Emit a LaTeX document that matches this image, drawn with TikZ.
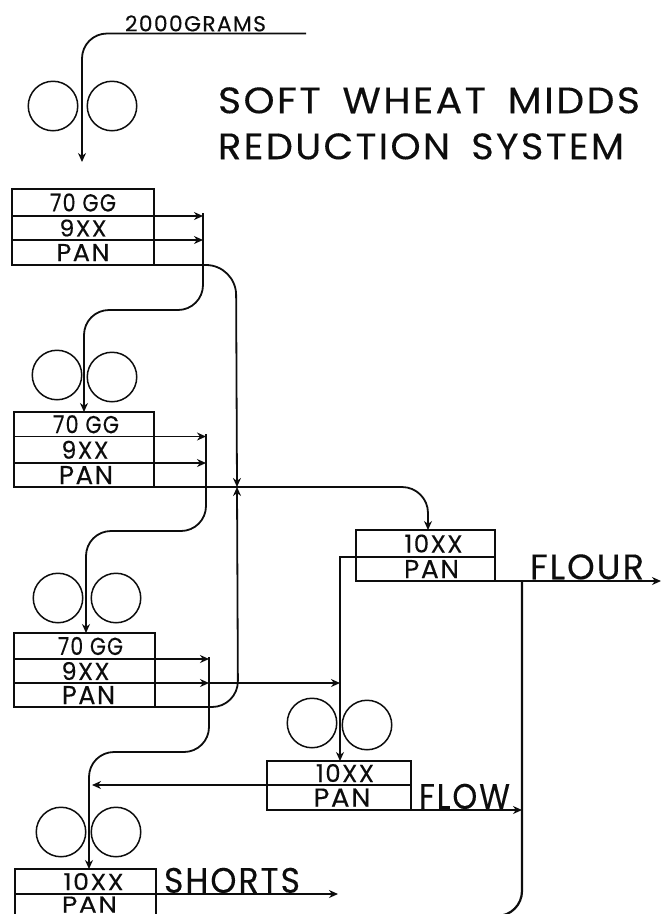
\documentclass[tikz,border=0pt]{standalone}
\usepackage{fontspec}
\usepackage{graphicx}
\setmainfont{Poppins}
\newfontfamily\ltr[LetterSpace=6,FakeBold=0.25]{Poppins}
\usetikzlibrary{arrows.meta}
\newcommand{\fitt}[3]{\resizebox{#1pt}{#2pt}{\ltr #3}}
% name, x1, x2, y1, y2, text width, text height, text shift, text
\newcommand{\sieverow}[9]{%
  \pgfmathsetmacro{\cxv}{(#2+#3)/2}\pgfmathsetmacro{\cyv}{(#4+#5)/2}%
  \pgfmathsetmacro{\wv}{#3-#2}\pgfmathsetmacro{\hv}{#5-#4}%
  \node[rowcell,minimum width=\wv pt,minimum height=\hv pt] (#1) at (\cxv,\cyv) {\hspace*{#8pt}\fitt{#6}{#7}{#9}};}
\tikzset{
  rowcell/.style={draw=ink,line width=1.8pt,inner sep=0pt,outer sep=0pt,text=ink},
  roll/.style={draw=ink,line width=1.5pt,circle,inner sep=0pt,outer sep=0pt,minimum size=49.5pt},
  flow/.style={draw=ink,line width=1.8pt,-{Stealth[length=9pt,width=8pt]}},
  plain/.style={draw=ink,line width=1.8pt},
  label/.style={anchor=south west,inner sep=0pt,outer sep=0pt,text=ink},
}
\definecolor{ink}{gray}{0.05}
\begin{document}
\begin{tikzpicture}[x=1pt,y=-1pt]
\useasboundingbox (0,0) rectangle (663,914);
\clip (0,0) rectangle (663,914);
% labels
\node[label] (tgrams) at (125,31.5) {\fitt{141}{16}{2000GRAMS}};
\node[label] (tone) at (218,113.5) {\fitt{422}{26}{SOFT\hspace{0.55em}WHEAT\hspace{0.55em}MIDDS}};
\node[label] (ttwo) at (218,159.5) {\fitt{406}{26}{REDUCTION\hspace{0.55em}SYSTEM}};
\node[label] (tflour) at (530,579.5) {\fitt{114}{25}{FLOUR}};
\node[label] (tflow) at (419,809) {\fitt{91}{25}{FLOW}};
\node[label] (tshorts) at (164,893) {\fitt{136}{25}{SHORTS}};
% rolls
\node[roll] (r1l) at (53,106) {}; \node[roll] (r1r) at (112,106) {};
\node[roll] (r2l) at (57,375) {}; \node[roll] (r2r) at (112,377) {};
\node[roll] (r3l) at (58,598) {}; \node[roll] (r3r) at (116,598) {};
\node[roll] (r4l) at (312,723) {}; \node[roll] (r4r) at (367,725) {};
\node[roll] (r5l) at (61,832) {}; \node[roll] (r5r) at (116,832) {};
% sieves
\sieverow{a1}{12}{154}{189}{216}{66}{18}{0}{70 GG}
\sieverow{a2}{12}{154}{216}{240}{47}{17}{0}{9XX}
\sieverow{a3}{12}{154}{240}{265}{53}{17}{0}{PAN}
\sieverow{b1}{14}{154}{412}{436.5}{66}{18}{4}{70 GG}
\sieverow{b2}{14}{154}{436.5}{463}{47}{18}{2}{9XX}
\sieverow{b3}{14}{154}{463}{487}{54}{18}{4}{PAN}
\sieverow{c1}{14}{155}{633}{659}{65}{18}{12}{70 GG}
\sieverow{c2}{14}{155}{659}{683}{48}{18}{2}{9XX}
\sieverow{c3}{14}{155}{683}{707}{53}{18}{8}{PAN}
\sieverow{d1}{267}{411}{761}{785}{58}{18}{12}{10XX}
\sieverow{d2}{267}{411}{785}{810}{57}{18}{6}{PAN}
\sieverow{e1}{356}{495}{530}{557}{58}{18}{16}{10XX}
\sieverow{e2}{356}{495}{557}{581}{55}{18}{12}{PAN}
\sieverow{f1}{15}{156}{869}{894}{60}{17}{16}{10XX}
\sieverow{f2}{15}{156}{894}{915}{55}{16}{8}{PAN}
% junction coordinates
\coordinate (feedstart) at (306,33.5);
\coordinate (feedbend) at (82,33.5);
\coordinate (feedend) at (82,162);
\coordinate (ja1) at (203,216); \coordinate (ja2) at (203,240);
\coordinate (jatop) at (203,213); \coordinate (jabend) at (203,310);
\coordinate (abend) at (84,310);
\coordinate (jb1) at (206,436.5); \coordinate (jb2) at (206,463);
\coordinate (jbtop) at (206,434); \coordinate (jbbend) at (206,531);
\coordinate (bbend) at (86,531);
\coordinate (jc1) at (209,659); \coordinate (jc2) at (209,683); \coordinate (jctop) at (209,657);
\coordinate (jcbend) at (209,752); \coordinate (cbend) at (89,752);
\coordinate (apanbend) at (236,265);
\coordinate (cross) at (237,487);
\coordinate (cpanbend) at (238,707);
\coordinate (toflour) at (428,487);
\coordinate (tothru) at (340,683);
\coordinate (ecorner) at (340,557);
\coordinate (flourend) at (661,581);
\coordinate (drainbend) at (522,916);
\coordinate (drainend) at (495,916);
\coordinate (flowend) at (522,810);
\coordinate (midsjoin) at (92,785);
\coordinate (shortsend) at (338,894);
% connectors
\draw[flow,rounded corners=25pt] (feedstart) -- (feedbend) -- (feedend);
\draw[flow] (a1.south east) -- (ja1);
\draw[flow] (a2.south east) -- (ja2);
\draw[flow,rounded corners=25pt] (jatop) -- (jabend) -- (abend) -- (abend |- b1.north);
\draw[flow] (b1.south east) -- (jb1);
\draw[flow] (b2.south east) -- (jb2);
\draw[flow,rounded corners=25pt] (jbtop) -- (jbbend) -- (bbend) -- (bbend |- c1.north);
\draw[flow] (c1.south east) -- (jc1);
\draw[flow] (c2.south east) -- (jc2);
\draw[flow] (jc2) -- (tothru);
\draw[flow,rounded corners=25pt] (jctop) -- (jcbend) -- (cbend) -- (cbend |- f1.north);
\draw[flow,rounded corners=30pt] (a3.south east) -- (apanbend) -- (cross);
\draw[flow,rounded corners=26pt] (c3.south east) -- (cpanbend) -- (cross);
\draw[flow,rounded corners=26pt] (b3.south east) -- (toflour) -- (toflour |- e1.north);
\draw[flow] (e1.south west) -- (ecorner) -- (ecorner |- d1.north);
\draw[flow] (d1.south west) -- (midsjoin);
\draw[flow] (e2.south east) -- (flourend);
\draw[flow] (d2.south east) -- (flowend);
\draw[plain,line width=2.2pt,rounded corners=25pt] (flowend |- e2.south) -- (drainbend) -- (drainend);
\draw[flow] (f1.south east) -- (shortsend);
\end{tikzpicture}
\end{document}
